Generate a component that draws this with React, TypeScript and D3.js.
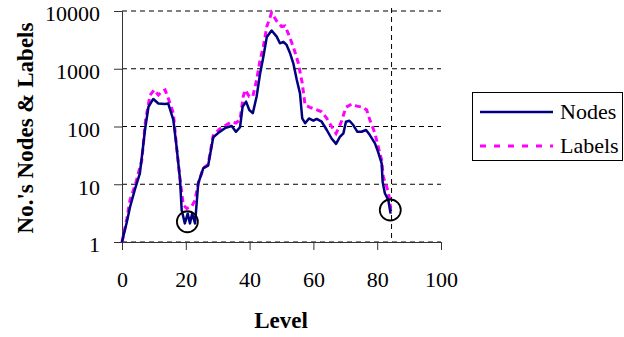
import React, { useRef, useEffect } from "react";
import * as d3 from "d3";

// data
const nodeLevels = [0, 1.5, 2.5, 4, 5.6, 6.5, 7.2, 8.3, 9.8, 11.4, 13.5, 14.5, 16.1, 17.1, 18.2, 18.7, 19.7, 20.6, 21.3, 22, 22.9, 23.9, 25.5, 27, 28.6, 30.5, 32.5, 34.4, 35.7, 37, 37.8, 38.9, 39.9, 41, 42.2, 43.3, 44.3, 45.4, 46.9, 48.5, 49.5, 50.6, 51.6, 52.7, 53.7, 54.8, 55.8, 56.5, 57.4, 58.6, 60, 61, 62.6, 64.2, 65.7, 67.1, 68.3, 69.4, 70.2, 71.3, 72.5, 73.8, 75.1, 76.5, 77.7, 79.3, 80.3, 81.4, 81.7, 82.4, 83.5, 84.2];
const nodeValues = [1, 2.2, 4, 8, 15.5, 40, 87, 220, 300, 250, 245, 250, 130, 45, 12, 3.6, 2.1, 3.1, 2.1, 3.1, 2.1, 10.4, 19, 21, 65, 80, 95, 102, 81, 97, 220, 270, 193, 170, 330, 830, 1600, 3560, 4600, 3600, 2760, 2930, 2580, 1850, 1240, 640, 375, 138, 114, 138, 126, 135, 121, 87, 62, 50, 66, 76, 121, 126, 106, 81, 81, 87, 71, 51, 36, 23, 11, 7, 5.3, 3.1];

const labelLevels = [0, 1.5, 2.5, 4.3, 6.2, 7.4, 8.8, 10.1, 11.4, 12.4, 13.5, 14.5, 16.1, 17.1, 18.2, 19.2, 20.3, 21.8, 22.9, 23.9, 25.5, 27, 28.6, 30.5, 32.5, 34.4, 35.7, 37, 38, 38.6, 39.9, 41, 42.2, 43.3, 44.3, 45.4, 46.9, 48.5, 50, 51.1, 52.1, 53.7, 55.3, 56.5, 57.4, 58.9, 60.5, 62.6, 64.2, 65.7, 67.1, 68.6, 70.2, 72, 73.6, 75.6, 76.7, 77.7, 79.3, 80.3, 81.4, 81.9, 83, 84, 84.2];
const labelValues = [1, 2.5, 5.3, 10.4, 26, 130, 350, 430, 350, 400, 430, 307, 170, 45, 12, 4.4, 3.8, 4.1, 5.3, 10.4, 19, 22, 70, 90, 105, 120, 115, 130, 330, 430, 330, 330, 640, 1420, 2400, 5370, 9300, 6700, 5370, 5500, 4100, 2400, 1240, 560, 235, 215, 200, 180, 138, 100, 76, 114, 215, 245, 225, 215, 193, 130, 76, 45, 26, 13.5, 9, 5.3, 3.3];

const xTicks = [0, 20, 40, 60, 80, 100];
const yTicks = [1, 10, 100, 1000, 10000];
const markerLevel = 84.5;
const circleLevels = [20.5, 84.1];
const circleValues = [2.24, 3.58];
const seriesNames = ["Nodes", "Labels"];

const App = () => {
  const svgRef = useRef<SVGSVGElement>(null);
  const width = 624;
  const height = 337;
  const serif = "Liberation Serif";

  useEffect(() => {
    const svg = d3.select(svgRef.current);
    svg.selectAll("*").remove();

    const x = d3.scaleLinear().domain([0, 100]).range([122, 441]);
    const y = d3.scaleLog().domain([1, 10000]).range([242, 11]);

    // grid
    svg.append("g")
      .selectAll("line")
      .data(yTicks)
      .enter()
      .append("line")
      .attr("x1", x(0))
      .attr("x2", x(100))
      .attr("y1", d => y(d))
      .attr("y2", d => y(d))
      .attr("stroke", "#000")
      .attr("stroke-dasharray", "5,4");

    svg.append("line")
      .attr("x1", x(markerLevel))
      .attr("x2", x(markerLevel))
      .attr("y1", y(10000) - 3)
      .attr("y2", y(1))
      .attr("stroke", "#000")
      .attr("stroke-dasharray", "5,4");

    // axes
    const xAxis = d3.axisBottom(x).tickValues(xTicks).tickSize(8).tickPadding(21).tickFormat(d3.format("d"));
    const gX = svg.append("g").attr("transform", `translate(0,${y(1)})`).call(xAxis);
    const yAxis = d3.axisLeft(y).tickValues(yTicks).tickSize(8).tickPadding(14).tickFormat(d3.format("d"));
    const gY = svg.append("g").attr("transform", `translate(${x(0)},0)`).call(yAxis);
    [gX, gY].forEach(g => {
      g.attr("font-family", serif).attr("font-size", 22);
      g.select(".domain").attr("stroke", "#333");
      g.selectAll(".tick line").attr("stroke", "#333");
      g.selectAll("text").attr("fill", "#000");
    });
    gY.selectAll("text").attr("dy", "0.45em");
    gX.selectAll("text").attr("dy", "0.71em");

    const line = d3.line<[number, number]>()
      .x(d => x(d[0]))
      .y(d => y(d[1]));

    svg.append("path")
      .datum(labelLevels.map((l, i) => [l, labelValues[i]] as [number, number]))
      .attr("fill", "none")
      .attr("stroke", "#ff00ff")
      .attr("stroke-width", 3)
      .attr("stroke-dasharray", "6,4")
      .attr("d", line);

    svg.append("path")
      .datum(nodeLevels.map((l, i) => [l, nodeValues[i]] as [number, number]))
      .attr("fill", "none")
      .attr("stroke", "#000080")
      .attr("stroke-width", 2.5)
      .attr("stroke-linejoin", "round")
      .attr("d", line);

    // annotation circles
    svg.selectAll("circle.mark")
      .data(circleLevels)
      .enter()
      .append("circle")
      .attr("class", "mark")
      .attr("cx", d => x(d))
      .attr("cy", (d, i) => y(circleValues[i]))
      .attr("r", 10.5)
      .attr("fill", "none")
      .attr("stroke", "#000")
      .attr("stroke-width", 1.8);

    // axis titles
    svg.append("text")
      .attr("x", 281)
      .attr("y", 328)
      .attr("text-anchor", "middle")
      .attr("font-family", serif)
      .attr("font-weight", "bold")
      .attr("font-size", 23)
      .text("Level");

    svg.append("text")
      .attr("transform", "translate(33,128) rotate(-90)")
      .attr("text-anchor", "middle")
      .attr("font-family", serif)
      .attr("font-weight", "bold")
      .attr("font-size", 23)
      .text("No.'s Nodes & Labels");

    // legend
    const lg = svg.append("g");
    lg.append("rect")
      .attr("x", 472.5)
      .attr("y", 92.5)
      .attr("width", 150)
      .attr("height", 68)
      .attr("fill", "#fff")
      .attr("stroke", "#000");
    const styles = [
      { color: "#000080", width: 2.5, dash: null },
      { color: "#ff00ff", width: 3, dash: "6,8" },
    ];
    seriesNames.forEach((name, i) => {
      const yy = 112 + i * 34;
      lg.append("line")
        .attr("x1", 480)
        .attr("x2", 553)
        .attr("y1", yy)
        .attr("y2", yy)
        .attr("stroke", styles[i].color)
        .attr("stroke-width", styles[i].width)
        .attr("stroke-dasharray", styles[i].dash);
      lg.append("text")
        .attr("x", 560)
        .attr("y", yy + 7)
        .attr("font-family", serif)
        .attr("font-size", 22)
        .text(name);
    });
  }, []);

  return (
    <svg
      ref={svgRef}
      width={width}
      height={height}
      style={{ position: "absolute", left: 0, top: 0, background: "#fff" }}
    />
  );
};

export default App;
